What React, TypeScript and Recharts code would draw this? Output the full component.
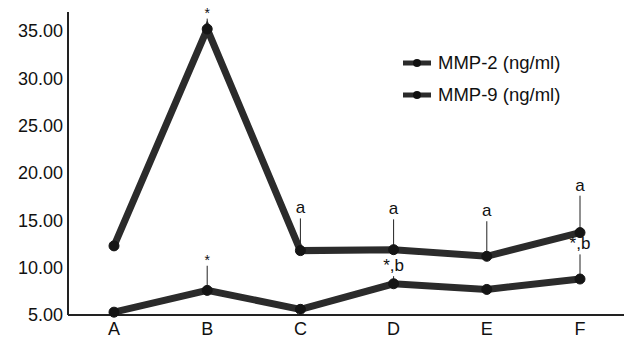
import React from "react";
import {
  LineChart,
  Line,
  XAxis,
  YAxis,
  ErrorBar,
  ReferenceDot,
  Legend,
} from "recharts";

const categories = ["A", "B", "C", "D", "E", "F"];
const mmp2 = [12.3, 35.2, 11.8, 11.9, 11.2, 13.7];
const mmp9 = [5.3, 7.6, 5.6, 8.3, 7.7, 8.8];
const mmp2ErrUp = [0, 1.1, 3.4, 3.2, 3.7, 3.9];
const mmp9ErrUp = [0, 2.6, 0, 0.8, 0, 2.6];
const mmp2Notes = ["", "*", "a", "a", "a", "a"];
const mmp9Notes = ["", "*", "", "*,b", "", "*,b"];
const yTicks = [5, 10, 15, 20, 25, 30, 35];

const seriesNames = ["MMP-2 (ng/ml)", "MMP-9 (ng/ml)"];

const data = categories.map((c, i) => ({
  cat: c,
  mmp2: mmp2[i],
  mmp9: mmp9[i],
  mmp2Err: [0, mmp2ErrUp[i]],
  mmp9Err: [0, mmp9ErrUp[i]],
}));

const FONT = "'Liberation Sans', Arial, sans-serif";
const INK = "#2b2b2b";

function NoteLabel({ viewBox, value }: any) {
  if (!viewBox || !value) return null;
  const small = value === "*";
  return (
    <text
      x={viewBox.cx ?? viewBox.x}
      y={(viewBox.cy ?? viewBox.y) - (small ? 1 : 5)}
      textAnchor="middle"
      fontSize={small ? 14 : 17}
      fontFamily={FONT}
      fill="#111"
    >
      {value}
    </text>
  );
}

function XTick({ x, y, payload }: any) {
  return (
    <text x={x} y={y + 12} textAnchor="middle" fontSize={18} fontFamily={FONT} fill="#111">
      {payload.value}
    </text>
  );
}

function LegendBox() {
  return (
    <div style={{ fontFamily: FONT, fontSize: 18.5, color: "#111" }}>
      {seriesNames.map((n) => (
        <div key={n} style={{ display: "flex", alignItems: "center", height: 32 }}>
          <svg width={30} height={12} style={{ marginRight: 6 }}>
            <line x1={1} y1={6} x2={29} y2={6} stroke={INK} strokeWidth={5} />
            <circle cx={15} cy={6} r={4} fill="#111" />
          </svg>
          {n}
        </div>
      ))}
    </div>
  );
}

export default function App() {
  return (
    <div style={{ position: "absolute", left: 0, top: 0, background: "#fff" }}>
      <LineChart
        width={624}
        height={339}
        data={data}
        margin={{ top: 12, right: 0, bottom: 0, left: 0 }}
      >
        <XAxis
          dataKey="cat"
          height={24}
          padding={{ left: 46, right: 44 }}
          tickLine={false}
          axisLine={{ stroke: "#222", strokeWidth: 2 }}
          tick={<XTick />}
        />
        <YAxis
          width={68}
          domain={[5, 37]}
          ticks={yTicks}
          tickLine={false}
          tickSize={5}
          tickMargin={0}
          axisLine={{ stroke: "#222", strokeWidth: 2 }}
          tickFormatter={(v: number) => v.toFixed(2)}
          tick={{ fontSize: 18, fontFamily: FONT, fill: "#111" }}
          interval={0}
        />
        <Legend
          content={<LegendBox />}
          layout="vertical"
          verticalAlign="middle"
          align="center"
          wrapperStyle={{ left: 402, top: 47, width: 220 }}
        />
        <Line
          dataKey="mmp2"
          name={seriesNames[0]}
          stroke={INK}
          strokeWidth={7}
          dot={{ r: 5, fill: "#151515", stroke: "#151515", strokeWidth: 1 }}
          isAnimationActive={false}
        >
          <ErrorBar dataKey="mmp2Err" direction="y" width={0} stroke="#222" strokeWidth={1} />
        </Line>
        <Line
          dataKey="mmp9"
          name={seriesNames[1]}
          stroke={INK}
          strokeWidth={7}
          dot={{ r: 5, fill: "#151515", stroke: "#151515", strokeWidth: 1 }}
          isAnimationActive={false}
        >
          <ErrorBar dataKey="mmp9Err" direction="y" width={0} stroke="#222" strokeWidth={1} />
        </Line>
        {categories.map((c, i) =>
          mmp2Notes[i] ? (
            <ReferenceDot
              key={"n2" + c}
              x={c}
              y={mmp2[i] + mmp2ErrUp[i]}
              r={0}
              fill="none"
              stroke="none"
              label={<NoteLabel value={mmp2Notes[i]} />}
            />
          ) : null
        )}
        {categories.map((c, i) =>
          mmp9Notes[i] ? (
            <ReferenceDot
              key={"n9" + c}
              x={c}
              y={mmp9[i] + mmp9ErrUp[i]}
              r={0}
              fill="none"
              stroke="none"
              label={<NoteLabel value={mmp9Notes[i]} />}
            />
          ) : null
        )}
      </LineChart>
    </div>
  );
}
